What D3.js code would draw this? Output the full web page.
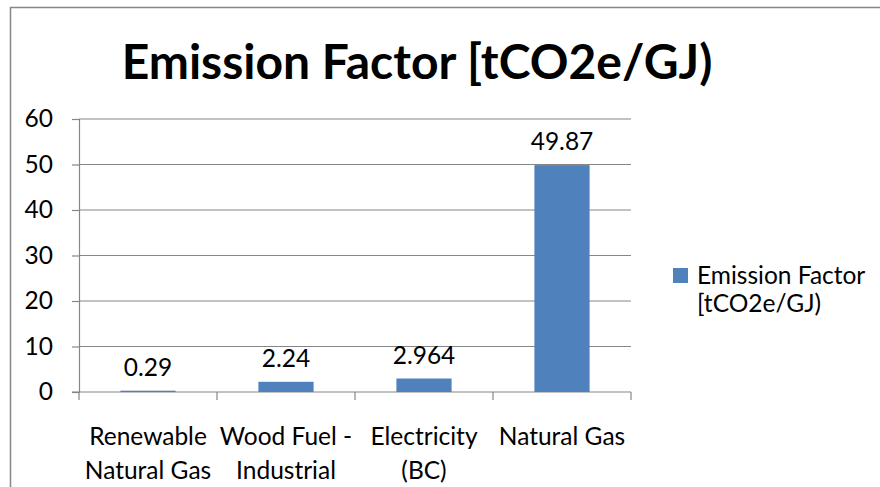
<!DOCTYPE html>
<html>
<head>
<meta charset="utf-8">
<script src="https://cdn.jsdelivr.net/npm/d3@7"></script>
<style>
  body { margin: 0; background: #fff; }
  svg { display: block; font-family: Lato, "Open Sans", sans-serif; }
</style>
</head>
<body>
<div id="chart"></div>
<script>
// Chart data
const categories = [
    ["Renewable", "Natural Gas"],
    ["Wood Fuel -", "Industrial"],
    ["Electricity", "(BC)"],
    ["Natural Gas"]
];
const values = [0.29, 2.24, 2.964, 49.87];
const valueLabels = ["0.29", "2.24", "2.964", "49.87"];
const yTicks = [0, 10, 20, 30, 40, 50, 60];
const seriesName = ["Emission Factor", "[tCO2e/GJ)"];
const chartTitle = "Emission Factor [tCO2e/GJ)";

const svgWidth = 880;
const svgHeight = 487;
const plot = { left: 79, right: 631, top: 119, bottom: 392 };
const gridColor = "#868686";
const barColor = "#4F81BD";
const labelSize = "24.5px";

const svg = d3.select("#chart")
    .append("svg")
    .attr("width", svgWidth)
    .attr("height", svgHeight);

// Outer chart border (runs off the right and bottom edges)
svg.append("rect")
    .attr("x", 10.5)
    .attr("y", 7.5)
    .attr("width", 900)
    .attr("height", 500)
    .attr("fill", "#fff")
    .attr("stroke", gridColor)
    .attr("stroke-width", 1.5);

// Title
svg.append("text")
    .attr("x", 417)
    .attr("y", 79)
    .attr("text-anchor", "middle")
    .style("font-size", "48px")
    .style("font-weight", "bold")
    .text(chartTitle);

// Scales
const ids = categories.map((d, i) => i);
const x = d3.scaleBand()
    .domain(ids)
    .range([plot.left, plot.right])
    .paddingInner(0.6)
    .paddingOuter(0.3);

const y = d3.scaleLinear()
    .domain([0, 60])
    .range([plot.bottom, plot.top]);

// Gridlines
svg.append("g")
    .selectAll("line")
    .data(yTicks.filter(d => d > 0))
    .enter()
    .append("line")
    .attr("x1", plot.left)
    .attr("x2", plot.right)
    .attr("y1", d => y(d))
    .attr("y2", d => y(d))
    .attr("stroke", gridColor)
    .attr("stroke-width", 1.2);

// Y axis
const yAxis = svg.append("g")
    .attr("transform", `translate(${plot.left},0)`)
    .call(d3.axisLeft(y).tickValues(yTicks).tickSize(7).tickPadding(19));
yAxis.select(".domain").attr("stroke", gridColor).attr("stroke-width", 1.2);
yAxis.selectAll(".tick line").attr("stroke", gridColor).attr("stroke-width", 1.2);
yAxis.selectAll(".tick text")
    .attr("fill", "#000")
    .style("font-family", "Lato, sans-serif")
    .style("font-size", labelSize);

// X axis line and tick marks at category boundaries
svg.append("line")
    .attr("x1", plot.left - 7)
    .attr("x2", plot.right)
    .attr("y1", y(0))
    .attr("y2", y(0))
    .attr("stroke", gridColor)
    .attr("stroke-width", 1.2);

const step = x.step();
svg.append("g")
    .selectAll("line")
    .data(d3.range(categories.length + 1))
    .enter()
    .append("line")
    .attr("x1", d => plot.left + d * step)
    .attr("x2", d => plot.left + d * step)
    .attr("y1", y(0))
    .attr("y2", y(0) + 8)
    .attr("stroke", gridColor)
    .attr("stroke-width", 1.2);

// Bars
svg.append("g")
    .selectAll("rect")
    .data(values)
    .enter()
    .append("rect")
    .attr("x", (d, i) => x(i))
    .attr("y", d => y(d))
    .attr("width", x.bandwidth())
    .attr("height", d => y(0) - y(d))
    .attr("fill", barColor);

// Data labels
svg.append("g")
    .selectAll("text")
    .data(values)
    .enter()
    .append("text")
    .attr("x", (d, i) => x(i) + x.bandwidth() / 2)
    .attr("y", d => y(d) - 15)
    .attr("text-anchor", "middle")
    .style("font-size", labelSize)
    .text((d, i) => valueLabels[i]);

// Category labels
const catG = svg.append("g")
    .selectAll("text")
    .data(categories)
    .enter()
    .append("text")
    .attr("x", (d, i) => x(i) + x.bandwidth() / 2)
    .attr("y", 445)
    .attr("text-anchor", "middle")
    .style("font-size", labelSize);
catG.selectAll("tspan")
    .data(d => d)
    .enter()
    .append("tspan")
    .attr("x", function () { return d3.select(this.parentNode).attr("x"); })
    .attr("dy", (d, i) => i === 0 ? 0 : 34)
    .text(d => d);

// Legend
svg.append("rect")
    .attr("x", 673)
    .attr("y", 268)
    .attr("width", 15)
    .attr("height", 15)
    .attr("fill", barColor);

svg.append("text")
    .attr("x", 697)
    .attr("y", 284)
    .style("font-size", labelSize)
    .selectAll("tspan")
    .data(seriesName)
    .enter()
    .append("tspan")
    .attr("x", 697)
    .attr("dy", (d, i) => i === 0 ? 0 : 28)
    .text(d => d);
</script>
</body>
</html>
